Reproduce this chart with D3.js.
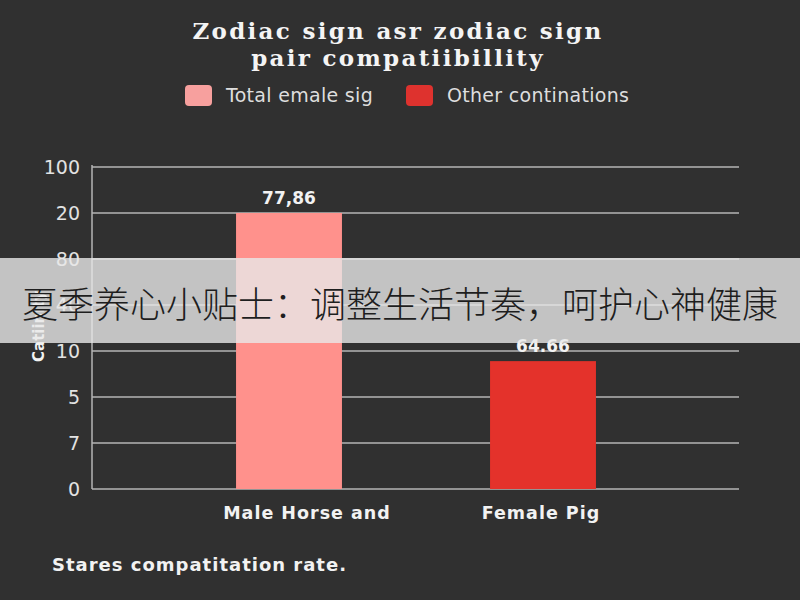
<!DOCTYPE html>
<html lang="en">

<head>
    <meta charset="UTF-8">
    <title>Zodiac sign pair compatibility</title>
    <script src="https://d3js.org/d3.v7.min.js"></script>
    <style>
        body {
            margin: 0;
            background-color: #303030;
        }

        .title {
            font-family: "DejaVu Serif", serif;
            font-weight: bold;
            font-size: 23px;
            letter-spacing: 2.3px;
            fill: #f4f4f4;
        }

        .legend_text {
            font-family: "DejaVu Sans", sans-serif;
            font-size: 19px;
            letter-spacing: 0.3px;
            fill: #dedede;
        }

        .tick_label {
            font-family: "DejaVu Sans", sans-serif;
            font-size: 19px;
            fill: #e2e2e2;
        }

        .bold_label {
            font-family: "DejaVu Sans", sans-serif;
            font-weight: bold;
            fill: #f2f2f2;
        }

        .banner_text {
            font-family: "Noto Sans CJK SC", sans-serif;
            font-size: 36px;
            font-weight: 300;
            fill: #1e1e1e;
        }
    </style>
</head>

<body>
    <svg id="chart" width="800" height="600"></svg>
    <script>

        // data
        let categories = ["Male Horse and", "Female Pig"]
        let bar_values = [6.0, 2.78]            // height in gridline slots
        let bar_labels = ["77,86", "64.66"]
        let bar_colors = ["#ff918c", "#e4322b"]
        let tick_labels = ["0", "7", "5", "10", "40", "80", "20", "100"]
        let legend_names = ["Total emale sig", "Other continations"]
        let legend_colors = ["#f7a09e", "#de322e"]
        let title_lines = ["Zodiac sign asr zodiac sign", "pair compatiibillity"]
        let banner = "夏季养心小贴士：调整生活节奏，呵护心神健康"

        function main() {
            let width = 800
            let height = 600
            let svg = d3.select("#chart")

            svg.append("rect")
                .attr("width", width).attr("height", height)
                .attr("fill", "#303030")

            // title
            svg.selectAll(".title")
                .data(title_lines)
                .enter()
                .append("text")
                .attr("class", "title")
                .attr("x", 398)
                .attr("y", (d, i) => 39 + i * 27)
                .attr("text-anchor", "middle")
                .text(d => d)

            // legend
            let legendX = [185, 406]
            let legend = svg.selectAll(".legend")
                .data(legend_names)
                .enter()
                .append("g")
                .attr("transform", (d, i) => "translate(" + legendX[i] + ",85)")
            legend.append("rect")
                .attr("width", 27).attr("height", 21)
                .attr("rx", 4)
                .attr("fill", (d, i) => legend_colors[i])
            legend.append("text")
                .attr("class", "legend_text")
                .attr("x", 41).attr("y", 17)
                .text(d => d)

            // scales
            let plotLeft = 92, plotRight = 739, plotBottom = 489, plotTop = 167
            let y = d3.scaleLinear()
                .domain([0, tick_labels.length - 1])
                .range([plotBottom, plotTop])
            let x = d3.scaleBand()
                .domain(categories)
                .range([162, 670])
                .paddingInner(0.583)
                .paddingOuter(0.2915)

            // gridlines
            svg.selectAll(".grid")
                .data(tick_labels)
                .enter()
                .append("line")
                .attr("x1", plotLeft).attr("x2", plotRight)
                .attr("y1", (d, i) => y(i)).attr("y2", (d, i) => y(i))
                .attr("stroke", "#b4b4b4")
                .attr("stroke-width", 1.5)

            svg.append("line")
                .attr("x1", plotLeft).attr("x2", plotLeft)
                .attr("y1", plotTop - 2).attr("y2", plotBottom)
                .attr("stroke", "#b4b4b4")
                .attr("stroke-width", 1.5)

            svg.selectAll(".tick_label")
                .data(tick_labels)
                .enter()
                .append("text")
                .attr("class", "tick_label")
                .attr("x", 80)
                .attr("y", (d, i) => y(i) + 7)
                .attr("text-anchor", "end")
                .text(d => d)

            // y axis title
            svg.append("text")
                .attr("class", "bold_label")
                .attr("font-size", 15)
                .attr("transform", "translate(44,362) rotate(-90)")
                .text("Catiinity")

            // bars
            svg.selectAll(".bar")
                .data(categories)
                .enter()
                .append("rect")
                .attr("x", d => x(d))
                .attr("width", x.bandwidth())
                .attr("y", (d, i) => y(bar_values[i]))
                .attr("height", (d, i) => plotBottom - y(bar_values[i]))
                .attr("fill", (d, i) => bar_colors[i])

            svg.selectAll(".value_label")
                .data(categories)
                .enter()
                .append("text")
                .attr("class", "bold_label")
                .attr("font-size", 17)
                .attr("x", d => x(d) + x.bandwidth() / 2)
                .attr("y", (d, i) => y(bar_values[i]) - 9)
                .attr("text-anchor", "middle")
                .text((d, i) => bar_labels[i])

            // category labels (first one sits a bit right of its bar)
            let label_shift = [18, -2]
            svg.selectAll(".cat_label")
                .data(categories)
                .enter()
                .append("text")
                .attr("class", "bold_label")
                .attr("font-size", 17.5)
                .attr("letter-spacing", 1)
                .attr("x", (d, i) => x(d) + x.bandwidth() / 2 + label_shift[i])
                .attr("y", 519)
                .attr("text-anchor", "middle")
                .text(d => d)

            // footer
            svg.append("text")
                .attr("class", "bold_label")
                .attr("font-size", 18)
                .attr("letter-spacing", 1)
                .attr("x", 52).attr("y", 571)
                .text("Stares compatitation rate.")

            // overlay banner
            svg.append("rect")
                .attr("x", 0).attr("y", 258)
                .attr("width", width).attr("height", 85)
                .attr("fill", "rgba(232,232,232,0.8)")
            svg.append("text")
                .attr("class", "banner_text")
                .attr("x", width / 2).attr("y", 318)
                .attr("text-anchor", "middle")
                .text(banner)
        }

        main()

    </script>
</body>

</html>
